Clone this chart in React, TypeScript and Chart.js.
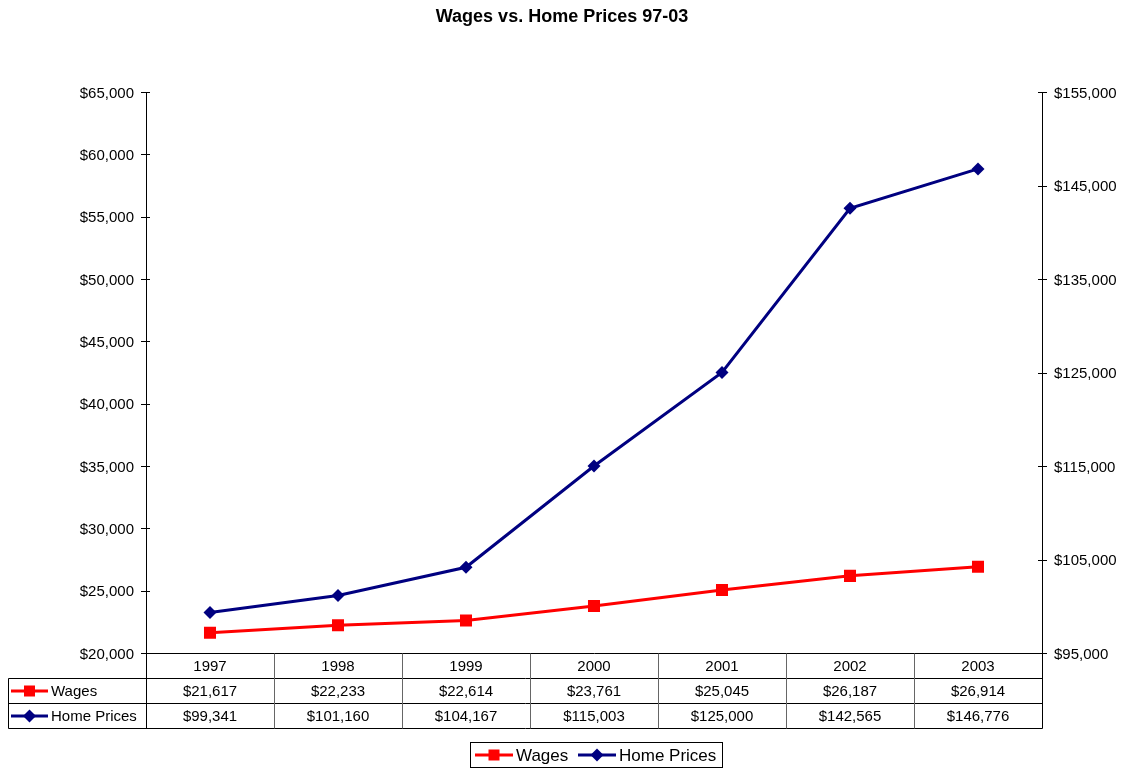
import React, { useEffect, useRef } from "react";
import { Chart, registerables } from "chart.js";

Chart.register(...registerables);

const years = ["1997", "1998", "1999", "2000", "2001", "2002", "2003"];
const wages = [21617, 22233, 22614, 23761, 25045, 26187, 26914];
const homePrices = [99341, 101160, 104167, 115003, 125000, 142565, 146776];
const leftTicks = [20000, 25000, 30000, 35000, 40000, 45000, 50000, 55000, 60000, 65000];
const rightTicks = [95000, 105000, 115000, 125000, 135000, 145000, 155000];
const titleText = "Wages vs. Home Prices 97-03";
const seriesNames = ["Wages", "Home Prices"];

const RED = "#FF0000";
const NAVY = "#000080";
const FONT = "Arial, 'Liberation Sans', sans-serif";

const money = (v: number) => "$" + v.toLocaleString("en-US");

function drawMarker(ctx: CanvasRenderingContext2D, kind: string, x: number, y: number, color: string) {
  ctx.fillStyle = color;
  if (kind === "rect") {
    ctx.fillRect(x - 5.5, y - 5.5, 11, 11);
  } else {
    ctx.beginPath();
    ctx.moveTo(x, y - 6.5);
    ctx.lineTo(x + 6.5, y);
    ctx.lineTo(x, y + 6.5);
    ctx.lineTo(x - 6.5, y);
    ctx.closePath();
    ctx.fill();
  }
}

function drawKey(ctx: CanvasRenderingContext2D, x0: number, x1: number, y: number, kind: string, color: string) {
  ctx.strokeStyle = color;
  ctx.lineWidth = 3;
  ctx.beginPath();
  ctx.moveTo(x0, y);
  ctx.lineTo(x1, y);
  ctx.stroke();
  drawMarker(ctx, kind, (x0 + x1) / 2, y, color);
}

const decorPlugin = {
  id: "decor",
  afterDraw(chart: any) {
    const ctx: CanvasRenderingContext2D = chart.ctx;
    const area = chart.chartArea;
    const xs = chart.scales.x;
    const yl = chart.scales.y;
    const yr = chart.scales.y1;
    ctx.save();

    // title
    ctx.fillStyle = "#000";
    ctx.font = `bold 18px ${FONT}`;
    ctx.textAlign = "center";
    ctx.textBaseline = "middle";
    ctx.fillText(titleText, 562, 17);

    // crossing tick marks
    ctx.strokeStyle = "#000";
    ctx.lineWidth = 1;
    ctx.beginPath();
    leftTicks.forEach((t) => {
      const y = Math.round(yl.getPixelForValue(t)) + 0.5;
      ctx.moveTo(area.left - 5, y);
      ctx.lineTo(area.left + 4, y);
    });
    rightTicks.forEach((t) => {
      const y = Math.round(yr.getPixelForValue(t)) + 0.5;
      ctx.moveTo(area.right - 4, y);
      ctx.lineTo(area.right + 5, y);
    });
    ctx.stroke();

    // data table
    const bottom = Math.round(area.bottom) + 0.5;
    const rowH = 25;
    const tableLeft = 8.5;
    const L = Math.round(area.left) + 0.5;
    const R = Math.round(area.right) + 0.5;
    const catW = (area.right - area.left) / years.length;

    ctx.strokeStyle = "#000";
    ctx.beginPath();
    ctx.moveTo(L, bottom);
    ctx.lineTo(R, bottom);
    for (let r = 1; r <= 3; r++) {
      const y = bottom + r * rowH;
      ctx.moveTo(tableLeft, y);
      ctx.lineTo(R, y);
    }
    ctx.moveTo(tableLeft, bottom + rowH);
    ctx.lineTo(tableLeft, bottom + 3 * rowH);
    ctx.moveTo(L, bottom);
    ctx.lineTo(L, bottom + 3 * rowH);
    ctx.moveTo(R, bottom);
    ctx.lineTo(R, bottom + 3 * rowH);
    ctx.stroke();

    ctx.strokeStyle = "#666";
    ctx.beginPath();
    for (let i = 1; i < years.length; i++) {
      const x = Math.round(area.left + i * catW) + 0.5;
      ctx.moveTo(x, bottom);
      ctx.lineTo(x, bottom + 3 * rowH);
    }
    ctx.stroke();

    ctx.fillStyle = "#000";
    ctx.font = `15px ${FONT}`;
    ctx.textAlign = "center";
    ctx.textBaseline = "middle";
    years.forEach((yr2, i) => {
      const cx = xs.getPixelForValue(i);
      ctx.fillText(yr2, cx, bottom + rowH / 2 + 1);
      ctx.fillText(money(wages[i]), cx, bottom + rowH * 1.5 + 1);
      ctx.fillText(money(homePrices[i]), cx, bottom + rowH * 2.5 + 1);
    });

    // row labels with keys
    drawKey(ctx, 11, 48, bottom + rowH * 1.5, "rect", RED);
    drawKey(ctx, 11, 48, bottom + rowH * 2.5, "diamond", NAVY);
    ctx.fillStyle = "#000";
    ctx.textAlign = "left";
    ctx.fillText(seriesNames[0], 51, bottom + rowH * 1.5 + 1);
    ctx.fillText(seriesNames[1], 51, bottom + rowH * 2.5 + 1);

    // legend box
    ctx.strokeStyle = "#000";
    ctx.lineWidth = 1;
    ctx.strokeRect(470.5, 742.5, 252, 25);
    const ly = 755;
    drawKey(ctx, 475, 513, ly, "rect", RED);
    drawKey(ctx, 578, 616, ly, "diamond", NAVY);
    ctx.fillStyle = "#000";
    ctx.font = `17px ${FONT}`;
    ctx.textAlign = "left";
    ctx.textBaseline = "middle";
    ctx.fillText(seriesNames[0], 516, ly + 1);
    ctx.fillText(seriesNames[1], 619, ly + 1);

    ctx.restore();
  },
};

export default function App() {
  const canvasRef = useRef<HTMLCanvasElement | null>(null);

  useEffect(() => {
    document.body.style.margin = "0";
    const canvas = canvasRef.current;
    if (!canvas) return;
    const chart = new Chart(canvas, {
      type: "line",
      data: {
        labels: years,
        datasets: [
          {
            label: seriesNames[0],
            data: wages,
            yAxisID: "y",
            borderColor: RED,
            backgroundColor: RED,
            borderWidth: 3,
            pointStyle: "rect",
            pointRadius: 8.5,
            pointHoverRadius: 8.5,
            pointBorderWidth: 0,
            tension: 0,
          },
          {
            label: seriesNames[1],
            data: homePrices,
            yAxisID: "y1",
            borderColor: NAVY,
            backgroundColor: NAVY,
            borderWidth: 3,
            pointStyle: "rectRot",
            pointRadius: 6.5,
            pointHoverRadius: 6.5,
            pointBorderWidth: 0,
            tension: 0,
          },
        ],
      },
      options: {
        responsive: false,
        animation: false,
        events: [],
        layout: { padding: { top: 92, bottom: 115, left: 0, right: 0 } },
        plugins: {
          legend: { display: false },
          title: { display: false },
          tooltip: { enabled: false },
        },
        scales: {
          x: {
            type: "category",
            display: false,
            offset: true,
          },
          y: {
            position: "left",
            min: 20000,
            max: 65000,
            afterBuildTicks: (s: any) => {
              s.ticks = leftTicks.map((v) => ({ value: v }));
            },
            afterFit: (s: any) => {
              s.width = 146;
            },
            grid: { display: false, drawTicks: false },
            border: { display: true, color: "#000", width: 1 },
            ticks: {
              padding: 12,
              labelOffset: 1.5,
              color: "#000",
              font: { family: FONT, size: 15 },
              callback: (v: any) => money(Number(v)),
            },
          },
          y1: {
            position: "right",
            min: 95000,
            max: 155000,
            afterBuildTicks: (s: any) => {
              s.ticks = rightTicks.map((v) => ({ value: v }));
            },
            afterFit: (s: any) => {
              s.width = 79;
            },
            grid: { display: false, drawTicks: false },
            border: { display: true, color: "#000", width: 1 },
            ticks: {
              padding: 12,
              labelOffset: 1.5,
              color: "#000",
              font: { family: FONT, size: 15 },
              callback: (v: any) => money(Number(v)),
            },
          },
        },
      },
      plugins: [decorPlugin],
    } as any);
    return () => chart.destroy();
  }, []);

  return (
    <div style={{ position: "fixed", left: 0, top: 0, width: 1121, height: 768, background: "#fff" }}>
      <canvas ref={canvasRef} width={1121} height={768} style={{ display: "block" }} />
    </div>
  );
}
